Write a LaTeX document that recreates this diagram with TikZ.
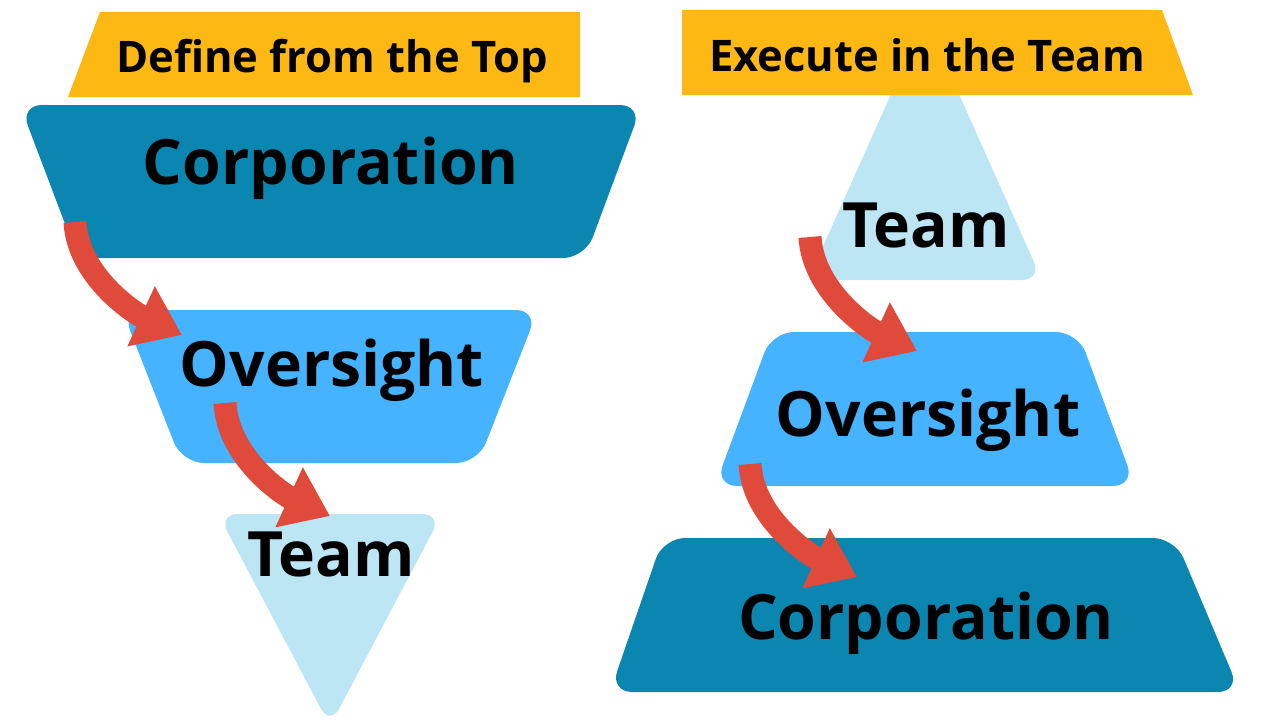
\documentclass[tikz,border=0pt]{standalone}
\usepackage{fontspec}
\setmainfont{Open Sans}
\usepackage{tikz}
\usetikzlibrary{arrows.meta}
\definecolor{corpteal}{HTML}{0A86B1}
\definecolor{oversightblue}{HTML}{45B3FF}
\definecolor{teampale}{HTML}{BDE6F5}
\definecolor{banneryellow}{HTML}{FDB813}
\definecolor{brushred}{HTML}{E04A3B}
\tikzset{
  corpshape/.style={fill=corpteal, rounded corners=22pt},
  oversightshape/.style={fill=oversightblue, rounded corners=22pt},
  teamshape/.style={fill=teampale, rounded corners=20pt},
  bannershape/.style={fill=banneryellow},
  leveltext/.style={anchor=base, inner sep=0pt, font=\bfseries\fontsize{62.5}{70}\selectfont},
  headtext/.style={anchor=base, inner sep=0pt, font=\bfseries\fontsize{43.5}{50}\selectfont},
  brusharrow/.style={draw=brushred, line width=23pt,
    -{Triangle[length=45pt, width=63pt]}}
}

\begin{document}
\begin{tikzpicture}[x=1pt, y=-1pt]
\useasboundingbox (0,0) rectangle (1280,720);

% left: define from the top
\fill[corpshape] (20,105) -- (642,105) -- (585,258) -- (78,258) -- cycle;
\fill[oversightshape] (122,310) -- (538,310) -- (478,463) -- (182,463) -- cycle;
\fill[teamshape] (218,514) -- (442,514) -- (330,726) -- cycle;
\fill[bannershape] (100,12) -- (580,12) -- (580,97) -- (68,97) -- cycle;

% right: execute in the team
\fill[teamshape] (925,18) -- (1042,280) -- (808,280) -- cycle;
\fill[oversightshape] (772,332) -- (1078,332) -- (1135,486) -- (715,486) -- cycle;
\fill[corpshape] (663,538) -- (1175,538) -- (1240,692) -- (610,692) -- cycle;
\fill[bannershape] (682,10) -- (1162,10) -- (1193,95) -- (682,95) -- cycle;

\node[headtext] (defhead) at (332,72) {Define from the Top};
\node[headtext] (exehead) at (927,71) {Execute in the Team};

\node[leveltext] (corpL) at (331,184) {Corporation};
\node[leveltext] (overL) at (332,386) {Oversight};
\node[leveltext] (teamL) at (331,576) {Team};
\node[leveltext] (teamR) at (926,247) {Team};
\node[leveltext] (overR) at (928,436) {Oversight};
\node[leveltext] (corpR) at (926,639) {Corporation};

\coordinate (arrA) at (75,222);
\coordinate (arrAtip) at (182,335);
\coordinate (arrB) at (225,403);
\coordinate (arrBtip) at (330,516);
\coordinate (arrC) at (810,237);
\coordinate (arrCtip) at (917,351);
\coordinate (arrD) at (750,464);
\coordinate (arrDtip) at (857,577);

\draw[brusharrow] (arrA) .. controls +(3,55) and +(-46,-21) .. (arrAtip);
\draw[brusharrow] (arrB) .. controls +(3,55) and +(-46,-21) .. (arrBtip);
\draw[brusharrow] (arrC) .. controls +(3,55) and +(-46,-21) .. (arrCtip);
\draw[brusharrow] (arrD) .. controls +(3,55) and +(-46,-21) .. (arrDtip);
\end{tikzpicture}
\end{document}
